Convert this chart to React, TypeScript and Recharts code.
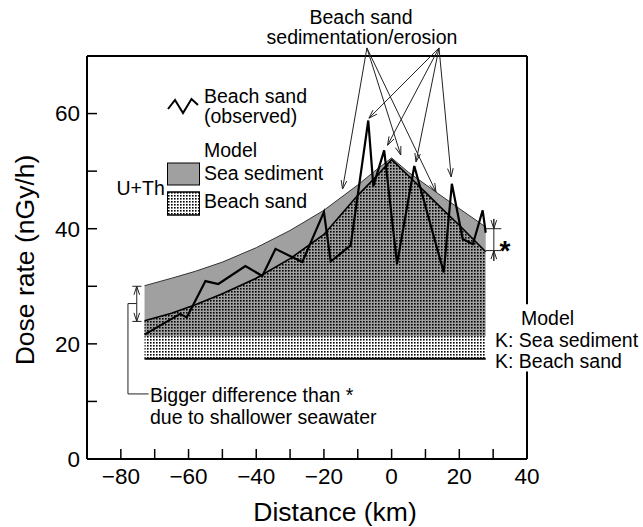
import React from 'react';
import { ComposedChart, Area, Line, XAxis, YAxis, ReferenceLine } from 'recharts';

const FONT = '"Liberation Sans", Arial, sans-serif';

// model dose rate from U+Th, sea sediment (km, nGy/h)
const seaX = [-73, -65, -58, -50, -40, -30, -20, -10, -5, 0, 5, 13, 20, 27.8];
const seaY = [30.1, 31.4, 32.6, 34.2, 36.7, 39.7, 43.2, 47.6, 50.0, 52.3, 49.8, 46.4, 43.5, 40.3];

// model dose rate from U+Th, beach sand
const beachX = [-73, -65, -58, -50, -40, -30, -20, -10, -5, 0, 5, 10, 15, 20, 27.8];
const beachY = [24.0, 25.3, 26.8, 28.7, 31.4, 34.8, 39.0, 45.8, 48.8, 52.0, 49.2, 46.3, 43.4, 40.6, 36.0];

// observed beach sand
const obsX = [-73, -62.5, -60.5, -55, -51.2, -43.2, -38.2, -34.3, -26.4, -20, -18, -12.1, -6.9, -5.4, -2.2, 1.6, 6.7, 15.4, 17.8, 21, 24, 26.9, 27.8];
const obsY = [21.6, 25.2, 24.6, 30.9, 30.4, 33.5, 31.8, 36.5, 34.2, 42.9, 34.3, 37.1, 58.8, 47.4, 53.6, 33.9, 50.9, 32.4, 47.8, 38.2, 37.3, 43.2, 39.3];

// K contribution levels
const kSeaSediment = 21.3;
const kBeachSand = 17.4;

const xTicks = [-80, -70, -60, -50, -40, -30, -20, -10, 0, 10, 20, 30, 40];
const yTicks = [0, 10, 20, 30, 40, 50, 60];

// caption arrows [fromX, fromY, toX, toY]
const captionArrows = [
  [-7.3, 71.4, -14.5, 46.9],
  [-7.3, 71.4, 2.7, 52.8],
  [-7.3, 71.4, 13.1, 46.4],
  [14.0, 71.4, -6.7, 59.2],
  [14.0, 71.4, -1.2, 54.5],
  [14.0, 71.4, 7.2, 51.6],
  [14.0, 71.4, 17.6, 49.0],
];

const seaData = seaX.map((x, i) => ({ x, range: [kSeaSediment, seaY[i]] }));
const seaLine = seaX.map((x, i) => ({ x, y: seaY[i] }));
const beachData = beachX.map((x, i) => ({ x, range: [kBeachSand, beachY[i]] }));
const beachLine = beachX.map((x, i) => ({ x, y: beachY[i] }));
const obsData = obsX.map((x, i) => ({ x, y: obsY[i] }));

const fmt = (v: number) => String(v).replace('-', '\u2212');

function arrowHead(x1: number, y1: number, x2: number, y2: number, len = 9) {
  const a = Math.atan2(y2 - y1, x2 - x1);
  const s = 0.32;
  return `${x2 - len * Math.cos(a - s)},${y2 - len * Math.sin(a - s)} ${x2},${y2} ${
    x2 - len * Math.cos(a + s)
  },${y2 - len * Math.sin(a + s)}`;
}

const arrowShape = (p: any) => (
  <g>
    <line x1={p.x1} y1={p.y1} x2={p.x2} y2={p.y2} stroke="#222" strokeWidth={1} />
    <polyline points={arrowHead(p.x1, p.y1, p.x2, p.y2)} fill="none" stroke="#222" strokeWidth={1} />
  </g>
);

const XTick = (p: any) => {
  const { x, y, payload } = p;
  const ay = y - 6;
  return (
    <g>
      <line x1={x} x2={x} y1={ay} y2={ay - 10} stroke="#000" strokeWidth={1.5} />
      {payload.value % 20 === 0 && (
        <text x={x} y={ay + 17} dy="0.35em" textAnchor="middle" fontSize={22.5} fontFamily={FONT} fill="#000">
          {fmt(payload.value)}
        </text>
      )}
    </g>
  );
};

const YTick = (p: any) => {
  const { x, y, payload } = p;
  const ax = x + 7;
  return (
    <g>
      <line x1={ax} x2={ax + 10} y1={y} y2={y} stroke="#000" strokeWidth={1.5} />
      {payload.value % 20 === 0 && (
        <text x={x} y={y} dy="0.35em" textAnchor="end" fontSize={22.5} fontFamily={FONT} fill="#000">
          {fmt(payload.value)}
        </text>
      )}
    </g>
  );
};

export default function App() {
  const txt = { fontFamily: FONT, fontSize: 19.5, fill: '#000' };
  return (
    <div style={{ position: 'relative', width: 643, height: 527, background: '#fff' }}>
      <style>{'body{margin:0}'}</style>
      <ComposedChart width={643} height={527} margin={{ top: 56, right: 116, bottom: 0, left: 0 }}>
        <XAxis
          type="number"
          dataKey="x"
          domain={[-90, 40]}
          ticks={xTicks}
          allowDataOverflow
          height={68}
          tickSize={0}
          tickMargin={6}
          tickLine={false}
          axisLine={{ stroke: '#000', strokeWidth: 2 }}
          tick={<XTick />}
        />
        <YAxis
          type="number"
          domain={[0, 70]}
          ticks={yTicks}
          allowDataOverflow
          width={87}
          tickSize={0}
          tickMargin={7}
          tickLine={false}
          axisLine={{ stroke: '#000', strokeWidth: 2 }}
          tick={<YTick />}
        />
        <Area data={seaData} dataKey="range" type="linear" fill="#a0a0a0" fillOpacity={1} stroke="none" isAnimationActive={false} />
        <Area data={beachData} dataKey="range" type="linear" fill="url(#dots)" fillOpacity={1} stroke="none" isAnimationActive={false} />
        <Line data={seaLine} dataKey="y" type="linear" stroke="#333" strokeWidth={1} dot={false} isAnimationActive={false} />
        <Line data={beachLine} dataKey="y" type="linear" stroke="#000" strokeWidth={1.6} dot={false} isAnimationActive={false} />
        <Line data={obsData} dataKey="y" type="linear" stroke="#000" strokeWidth={2.2} dot={false} isAnimationActive={false} />
        <ReferenceLine segment={[{ x: -73, y: kBeachSand }, { x: 27.8, y: kBeachSand }]} stroke="#000" strokeWidth={2} />
        {/* frame */}
        <ReferenceLine y={70} stroke="#000" strokeWidth={2} ifOverflow="visible" />
        <ReferenceLine segment={[{ x: 40, y: 70 }, { x: 40, y: 26.9 }]} stroke="#000" strokeWidth={2} ifOverflow="visible" />
        <ReferenceLine segment={[{ x: 40, y: 15.2 }, { x: 40, y: 0 }]} stroke="#000" strokeWidth={2} ifOverflow="visible" />
        {captionArrows.map((a, i) => (
          <ReferenceLine
            key={i}
            segment={[{ x: a[0], y: a[1] }, { x: a[2], y: a[3] }]}
            ifOverflow="visible"
            shape={arrowShape}
          />
        ))}
        {/* * marker on the right */}
        <ReferenceLine segment={[{ x: 30.2, y: 41.7 }, { x: 30.2, y: 34.4 }]} stroke="#222" strokeWidth={1} ifOverflow="visible" />
        <ReferenceLine segment={[{ x: 30.2, y: 41.7 }, { x: 30.2, y: 40.0 }]} ifOverflow="visible" shape={arrowShape} />
        <ReferenceLine segment={[{ x: 30.2, y: 34.4 }, { x: 30.2, y: 36.2 }]} ifOverflow="visible" shape={arrowShape} />
        <ReferenceLine segment={[{ x: 27.9, y: 40.0 }, { x: 32.4, y: 40.0 }]} stroke="#222" strokeWidth={1} ifOverflow="visible" />
        <ReferenceLine segment={[{ x: 27.9, y: 36.2 }, { x: 32.4, y: 36.2 }]} stroke="#222" strokeWidth={1} ifOverflow="visible" />
        {/* bigger difference marker on the left */}
        <ReferenceLine segment={[{ x: -75.3, y: 27.0 }, { x: -75.3, y: 30.0 }]} ifOverflow="visible" shape={arrowShape} />
        <ReferenceLine segment={[{ x: -75.3, y: 27.0 }, { x: -75.3, y: 23.9 }]} ifOverflow="visible" shape={arrowShape} />
        <ReferenceLine segment={[{ x: -76.6, y: 30.0 }, { x: -73.9, y: 30.0 }]} stroke="#222" strokeWidth={1} ifOverflow="visible" />
        <ReferenceLine segment={[{ x: -76.6, y: 23.9 }, { x: -73.9, y: 23.9 }]} stroke="#222" strokeWidth={1} ifOverflow="visible" />
        <ReferenceLine segment={[{ x: -75.3, y: 27.0 }, { x: -77.9, y: 27.0 }]} stroke="#222" strokeWidth={1} ifOverflow="visible" />
        <ReferenceLine segment={[{ x: -77.9, y: 27.0 }, { x: -77.9, y: 11.3 }]} stroke="#222" strokeWidth={1} ifOverflow="visible" />
        <ReferenceLine segment={[{ x: -77.9, y: 11.3 }, { x: -71.8, y: 11.3 }]} stroke="#222" strokeWidth={1} ifOverflow="visible" />
      </ComposedChart>

      <svg width={643} height={527} style={{ position: 'absolute', left: 0, top: 0, pointerEvents: 'none' }}>
        <defs>
          <pattern id="dots" width={3} height={3} patternUnits="userSpaceOnUse">
            <rect x={0} y={0} width={1.6} height={1.6} fill="#000" />
          </pattern>
        </defs>
        <text x={361} y={17} dy="0.35em" textAnchor="middle" {...txt}>Beach sand</text>
        <text x={362} y={37} dy="0.35em" textAnchor="middle" {...txt}>sedimentation/erosion</text>

        <polyline points="168,109 175,100 183,113 191.5,99 198,105" fill="none" stroke="#000" strokeWidth={2} />
        <text x={204} y={96} dy="0.35em" {...txt}>Beach sand</text>
        <text x={204} y={116} dy="0.35em" {...txt}>(observed)</text>
        <text x={204} y={150} dy="0.35em" {...txt}>Model</text>
        <rect x={167.5} y={163} width={32} height={22} fill="#a0a0a0" stroke="#000" strokeWidth={1} />
        <text x={204} y={173.5} dy="0.35em" {...txt}>Sea sediment</text>
        <rect x={167.5} y={192} width={32} height={23} fill="#fff" stroke="#000" strokeWidth={1} />
        <rect x={167.5} y={192} width={32} height={23} fill="url(#dots)" stroke="#000" strokeWidth={1} />
        <text x={204} y={201.5} dy="0.35em" {...txt}>Beach sand</text>
        <text x={116.5} y={188} dy="0.35em" {...txt}>U+Th</text>

        <text x={150} y={395} dy="0.35em" {...txt}>Bigger difference than *</text>
        <text x={150} y={417} dy="0.35em" {...txt}>due to shallower seawater</text>
        <text x={505} y={250} dy="0.35em" textAnchor="middle" {...txt} fontSize={28} fontWeight="bold">*</text>

        <text x={521} y={318} dy="0.35em" {...txt}>Model</text>
        <text x={495} y={340} dy="0.35em" {...txt}>K: Sea sediment</text>
        <text x={495} y={361.5} dy="0.35em" {...txt}>K: Beach sand</text>

        <text x={25} y={260} dy="0.35em" textAnchor="middle" transform="rotate(-90 25 260)" fontFamily={FONT} fontSize={26.5} fill="#000">
          Dose rate (nGy/h)
        </text>
        <text x={335} y={512} dy="0.35em" textAnchor="middle" fontFamily={FONT} fontSize={26.5} fill="#000">
          Distance (km)
        </text>
      </svg>
    </div>
  );
}
